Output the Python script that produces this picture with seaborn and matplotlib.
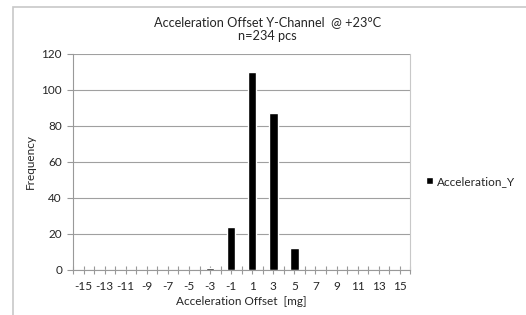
import matplotlib
matplotlib.use('Agg')
import matplotlib.pyplot as plt
import seaborn as sns
import pandas as pd
from matplotlib.patches import Rectangle

# histogram bins (mg) and counts
offsets = ['-15', '-13', '-11', '-9', '-7', '-5', '-3', '-1',
           '1', '3', '5', '7', '9', '11', '13', '15']
counts = [0, 0, 0, 0, 0, 0, 1, 24, 110, 87, 12, 0, 0, 0, 0, 0]
series_name = 'Acceleration_Y'

sns.set_style('white')
plt.rcParams['font.family'] = ['Lato', 'DejaVu Sans']

df = pd.DataFrame({'offset': offsets, 'count': counts})

fig = plt.figure(figsize=(5.26, 3.15), dpi=100)
ax = fig.add_axes([0.139, 0.143, 0.641, 0.686])

sns.barplot(x='offset', y='count', data=df, order=offsets, color='black',
            width=0.4, saturation=1, label=series_name, ax=ax)
if ax.get_legend() is not None:
    ax.get_legend().remove()

ax.set_xlim(-0.5, len(offsets) - 0.5)
ax.set_ylim(0, 120)
ax.set_yticks(range(0, 121, 20))
ax.yaxis.grid(True, color='#a0a0a0', linewidth=0.8)
ax.set_axisbelow(True)

ax.set_xticks([i + 0.5 for i in range(-1, len(offsets))], minor=True)
ax.tick_params(axis='x', which='both', direction='inout', length=6, width=0.8,
               color='#999999', labelsize=8.5, pad=5, bottom=True)
ax.tick_params(axis='y', direction='out', length=4, width=0.8, color='#999999',
               labelsize=8.5, left=True, pad=4)

ax.spines['top'].set_visible(False)
ax.spines['right'].set_color('#c8c8c8')
ax.spines['left'].set_color('#999999')
ax.spines['bottom'].set_color('#999999')

ax.set_xlabel('Acceleration Offset  [mg]', fontsize=8.5, labelpad=3)
ax.set_ylabel('Frequency', fontsize=8.5, labelpad=4)

fig.text(0.508, 0.93, 'Acceleration Offset Y-Channel  @ +23°C', ha='center',
         va='center', fontsize=9.2)
fig.text(0.508, 0.885, 'n=234 pcs', ha='center', va='center', fontsize=9.2)

handles, labels = ax.get_legend_handles_labels()
fig.legend(handles[:1], labels[:1], loc='center left',
           bbox_to_anchor=(0.79, 0.425), frameon=False, fontsize=8.5,
           handlelength=0.6, handleheight=0.6, handletextpad=0.3)

# chart area border
fig.patches.append(Rectangle((13 / 526, -0.1), 1.2, 1.1 - 7 / 315,
                             transform=fig.transFigure, fill=False,
                             edgecolor='#c8c8c8', linewidth=1.2))

fig.savefig('out.png', dpi=100)
